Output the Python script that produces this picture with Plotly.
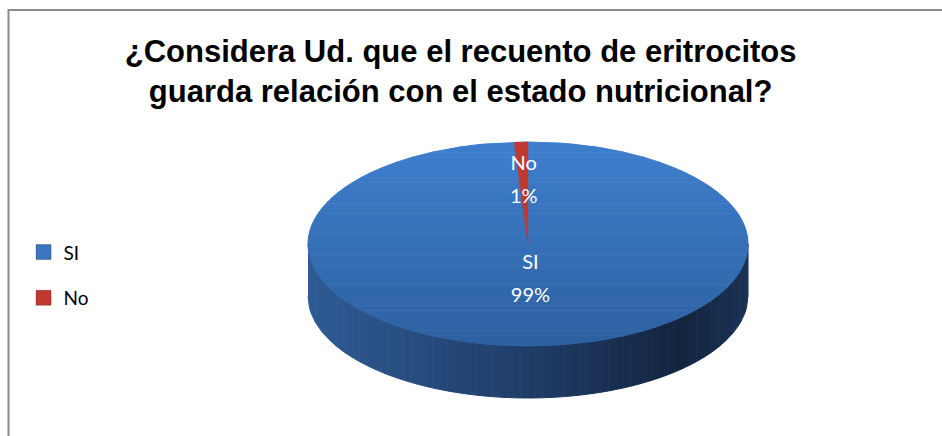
import numpy as np
import plotly.graph_objects as go

labels = ["SI", "No"]
values = [99, 1]
colors = ["#3a75c0", "#c0392f"]
title = "<b>¿Considera Ud. que el recuento de eritrocitos<br>guarda relación con el estado nutricional?</b>"

W, H = 942, 436
cx, cy, rx, ry, depth = 528, 244, 220, 102, 52

fig = go.Figure()


def mix(stops, t):
    for (t0, c0), (t1, c1) in zip(stops[:-1], stops[1:]):
        if t <= t1:
            f = (t - t0) / (t1 - t0)
            c = [round(a + (b - a) * f) for a, b in zip(c0, c1)]
            return "rgb(%d,%d,%d)" % tuple(c)
    return "rgb(%d,%d,%d)" % stops[-1][1]


# side wall of the 3d pie (front half), shaded left to right
side_stops = [(0, (46, 90, 148)), (0.5, (31, 61, 104)), (0.85, (19, 35, 62)), (1, (27, 50, 85))]
n = 60
edges = np.linspace(cx - rx, cx + rx, n + 1)
for i in range(n):
    xs = np.linspace(edges[i], edges[i + 1], 6)
    top = cy + ry * np.sqrt(np.clip(1 - ((xs - cx) / rx) ** 2, 0, 1))
    px_ = np.concatenate([xs, xs[::-1]])
    py_ = np.concatenate([top, top[::-1] + depth])
    col = mix(side_stops, (i + 0.5) / n)
    fig.add_trace(go.Scatter(x=px_, y=py_, fill="toself", fillcolor=col, mode="lines",
                             line=dict(color=col, width=1), hoverinfo="skip", showlegend=False))

# top face: first slice (SI) with vertical gradient
top_stops = [(0, (62, 127, 206)), (1, (45, 96, 160))]
m = 40
yedges = np.linspace(cy - ry, cy + ry, m + 1)
for i in range(m):
    ys = np.linspace(yedges[i], yedges[i + 1], 6)
    hw = rx * np.sqrt(np.clip(1 - ((ys - cy) / ry) ** 2, 0, 1))
    px_ = np.concatenate([cx - hw, (cx + hw)[::-1]])
    py_ = np.concatenate([ys, ys[::-1]])
    col = mix(top_stops, (i + 0.5) / m)
    fig.add_trace(go.Scatter(x=px_, y=py_, fill="toself", fillcolor=col, mode="lines",
                             line=dict(color=col, width=1), hoverinfo="skip", showlegend=False))

# other slices drawn over the top face, clockwise from 12 o'clock
total = sum(values)
starts = np.cumsum([0] + values[:-1]) / total * 2 * np.pi
ends = np.cumsum(values) / total * 2 * np.pi
for k in range(1, len(values)):
    th = np.linspace(starts[k], ends[k], 20)
    px_ = np.concatenate([[cx], cx + rx * np.sin(th), [cx]])
    py_ = np.concatenate([[cy], cy - ry * np.cos(th), [cy]])
    fig.add_trace(go.Scatter(x=px_, y=py_, fill="toself", fillcolor=colors[k], mode="lines",
                             line=dict(color=colors[k], width=0.5), hoverinfo="skip", showlegend=False))

# data labels
label_r = [0.35, 0.62]
for k in range(len(values)):
    mid = (starts[k] + ends[k]) / 2
    lx = cx + label_r[k] * rx * np.sin(mid)
    ly = cy - label_r[k] * ry * np.cos(mid)
    pct = "%d%%" % round(values[k] / total * 100)
    fig.add_trace(go.Scatter(x=[lx, lx], y=[ly - 16, ly + 17], mode="text", text=[labels[k], pct],
                             textfont=dict(family="Lato, Open Sans, sans-serif", size=20, color="white"),
                             hoverinfo="skip", showlegend=False))

# legend entries
for k in range(len(values)):
    fig.add_trace(go.Scatter(x=[None], y=[None], mode="markers", name=labels[k], legendgroup=labels[k],
                             marker=dict(symbol="square", size=15, color=colors[k],
                                         line=dict(color="rgba(0,0,0,0.25)", width=1))))

fig.update_layout(
    width=W, height=H,
    margin=dict(l=0, r=0, t=0, b=0),
    paper_bgcolor="white", plot_bgcolor="white",
    title=dict(text=title, x=0.489, xanchor="center", y=0.858, yanchor="top",
               font=dict(family="Liberation Sans, Arial, sans-serif", size=31, color="black")),
    xaxis=dict(range=[0, W], visible=False, fixedrange=True),
    yaxis=dict(range=[H, 0], visible=False, fixedrange=True),
    legend=dict(x=0.025, y=0.465, yanchor="top", tracegroupgap=18,
                font=dict(family="Lato, Open Sans, sans-serif", size=19, color="black")),
    shapes=[dict(type="rect", xref="paper", yref="paper", x0=8.5 / W, x1=1.02, y0=-0.02, y1=1 - 10 / H,
                 line=dict(color="#8c8c8c", width=2), layer="above")],
)

fig.write_html("out.html", config={"displayModeBar": False},
               post_script="document.body.style.margin='0';")
